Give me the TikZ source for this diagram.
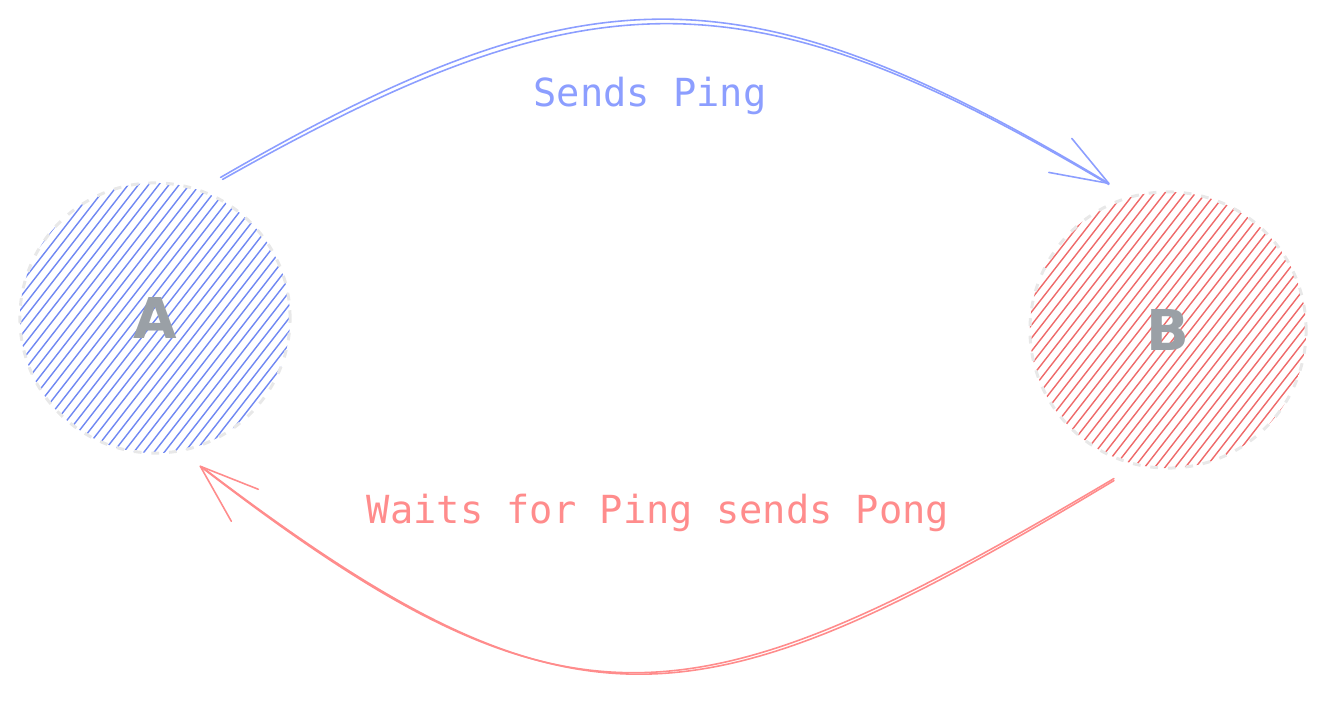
\documentclass[tikz,border=0pt]{standalone}
\usepackage{fontspec}
\setmonofont{DejaVu Sans Mono}
\setsansfont{DejaVu Sans}
\usetikzlibrary{positioning}
\definecolor{pingblue}{HTML}{8C9EFF}
\definecolor{hatchblue}{HTML}{7088F2}
\definecolor{pongred}{HTML}{FF8C8C}
\definecolor{hatchred}{HTML}{EE6A6A}
\definecolor{labelgray}{HTML}{9AA0A6}
\definecolor{rimgray}{HTML}{E8E8E8}
\tikzset{hatched/.style={path picture={
  \foreach \s in {-210,-202,...,210}
    \draw[#1,solid,line width=0.4pt,shift={(path picture bounding box.center)}]
      ({0.79*\s-148},{0.62*\s+190}) -- ++(296,-380);}}}
\begin{document}
\begin{tikzpicture}[x=0.01cm,y=-0.01cm,
                    peer node/.style={circle,draw=rimgray,line width=0.85pt,dash pattern=on 2.2pt off 2.8pt,
                      inner sep=0pt,outer sep=0.2cm,text=labelgray,font=\sffamily\bfseries\fontsize{16}{16}\selectfont},
                    ping arrow/.style={pingblue,line width=0.45pt,line cap=round},
                    pong arrow/.style={pongred,line width=0.45pt,line cap=round},
                    edge text/.style={font=\ttfamily\fontsize{11}{13}\selectfont}]
\useasboundingbox (0,0) rectangle (1325,701);

\node[peer node,hatched=hatchblue,minimum size=2.7cm] (NodeA) at (155,318) {A};
\node[peer node,hatched=hatchred,minimum size=2.76cm] (NodeB) at (1168,330) {B};

% A sends ping to B
\draw[ping arrow] (NodeA.65) .. controls +(366,-212) and +(-363,-218) .. (NodeB.112);
\draw[ping arrow] ([shift={(2,2)}]NodeA.65) .. controls +(368,-208) and +(-361,-214) .. ([shift={(0,1)}]NodeB.112);
\draw[ping arrow] (NodeB.112) -- +(-37,-45) (NodeB.112) -- +(-60,-11);

% B answers with pong
\draw[pong arrow] (NodeB.250) .. controls +(-421,249) and +(369,285) .. (NodeA.287);
\draw[pong arrow] ([shift={(0,2)}]NodeB.250) .. controls +(-419,252) and +(371,282) .. ([shift={(2,1)}]NodeA.287);
\draw[pong arrow] (NodeA.287) -- +(58,23) (NodeA.287) -- +(31,55);

\node[edge text,text=pingblue] (PingText) at (650,96) {Sends Ping};
\node[edge text,text=pongred] (PongText) at (658,513) {Waits for Ping sends Pong};

\end{tikzpicture}
\end{document}
